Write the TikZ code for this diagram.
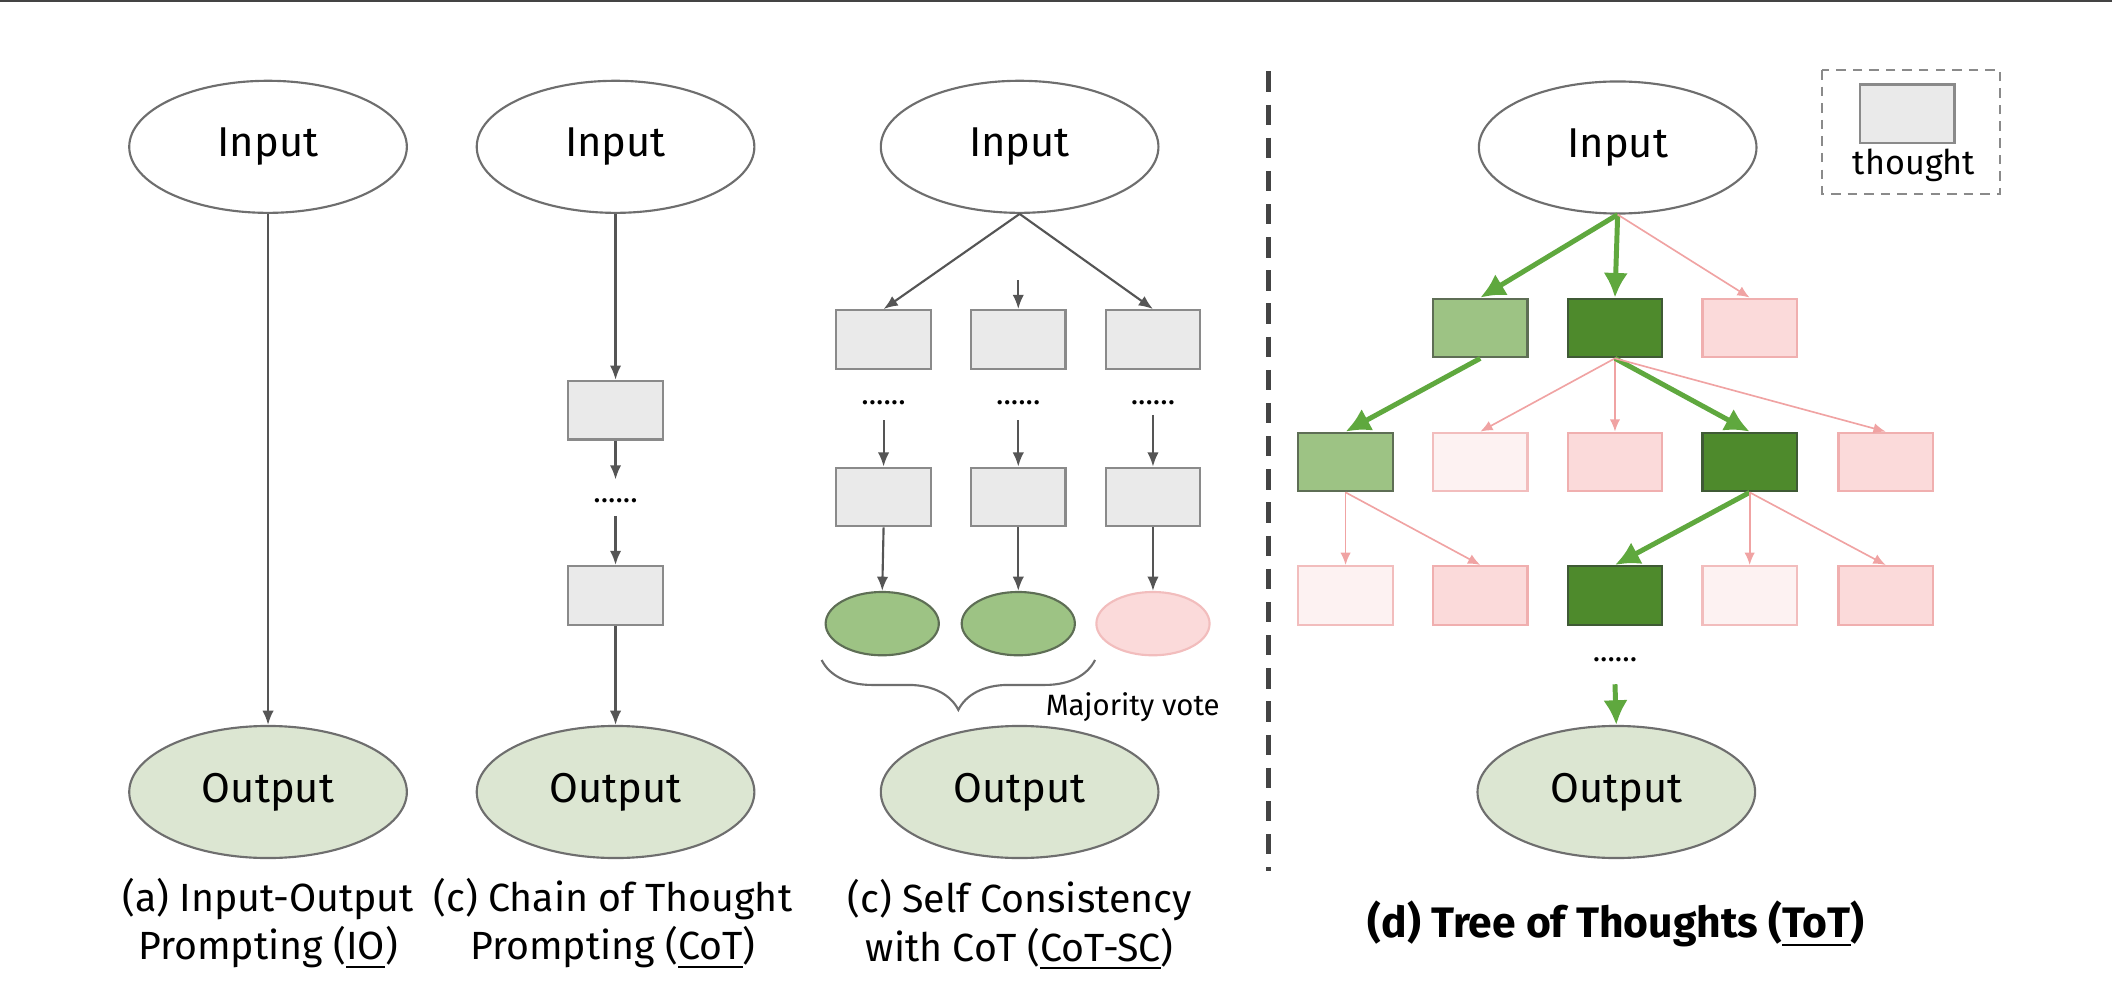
\documentclass[tikz,border=0pt]{standalone}
\usepackage{fontspec}
\setmainfont{Fira Sans}
\usetikzlibrary{shapes.geometric,arrows.meta,decorations.pathreplacing}
\definecolor{ellgray}{HTML}{6E6E6E}
\definecolor{outgreen}{HTML}{DCE6D2}
\definecolor{boxgray}{HTML}{EAEAEA}
\definecolor{boxedge}{HTML}{8A8A8A}
\definecolor{lightgreen}{HTML}{9DC384}
\definecolor{lgedge}{HTML}{5E6E55}
\definecolor{darkgreen}{HTML}{4E8A2C}
\definecolor{dgedge}{HTML}{3F5A35}
\definecolor{pinkfill}{HTML}{FBDADA}
\definecolor{pinkedge}{HTML}{F0AFAF}
\definecolor{palepink}{HTML}{FDF2F2}
\definecolor{paleedge}{HTML}{F2BDBD}
\definecolor{greenarrow}{HTML}{5FA83E}
\definecolor{pinkarrow}{HTML}{F0A3A3}
\definecolor{arrgray}{HTML}{555555}
\definecolor{topgray}{HTML}{444444}

\begin{document}
\begin{tikzpicture}[x=0.01cm, y=-0.01cm,
            inout/.style={ellipse, draw=ellgray, line width=0.45pt, minimum width=2.06cm, minimum height=0.98cm, inner sep=0pt, font=\fontsize{8.8}{10}\selectfont},
            innode/.style={inout, fill=white},
            outnode/.style={inout, fill=outgreen},
            thought/.style={rectangle, draw=boxedge, fill=boxgray, line width=0.45pt, minimum width=0.7cm, minimum height=0.435cm, inner sep=0pt},
            goodbox/.style={thought, draw=lgedge, fill=lightgreen},
            bestbox/.style={thought, draw=dgedge, fill=darkgreen},
            badbox/.style={thought, draw=pinkedge, fill=pinkfill},
            weakbox/.style={thought, draw=paleedge, fill=palepink},
            answer/.style={ellipse, minimum width=0.84cm, minimum height=0.47cm, inner sep=0pt, line width=0.45pt},
            dots/.style={font=\fontsize{6.5}{7}\selectfont, inner sep=0pt},
            caption/.style={align=center, font=\fontsize{8.3}{10.2}\selectfont},
            arr/.style={draw=arrgray, line width=0.45pt, -{Latex[length=3pt,width=2.4pt]}},
            goodarr/.style={draw=greenarrow, line width=1.05pt, -{Latex[length=5.2pt,width=5.2pt]}},
            badarr/.style={draw=pinkarrow, line width=0.35pt, -{Latex[length=2.6pt,width=2.2pt]}}]
            \useasboundingbox (0,0) rectangle (1568,748);
            \draw[topgray, line width=0.4pt] (0,0.6) -- (1568,0.6);

            \node[innode] (ioin) at (199,109) {Input};
            \node[outnode] (ioout) at (199,588) {Output};
            \draw[arr] (ioin.south) -- (ioout.north);
            \node[caption] (iocap) at (199,686) {(a) Input-Output\\Prompting (\underline{IO})};

            \node[innode] (cotin) at (457,109) {Input};
            \node[thought] (cotb1) at (457,304.5) {};
            \node[dots] (cotdots) at (457,372) {......};
            \node[thought] (cotb2) at (457,442) {};
            \node[outnode] (cotout) at (457,588) {Output};
            \coordinate (cotd1) at (457,356);
            \coordinate (cotd2) at (457,383);
            \draw[arr] (cotin.south) -- (cotb1.north);
            \draw[arr] (cotb1.south) -- (cotd1);
            \draw[arr] (cotd2) -- (cotb2.north);
            \draw[arr] (cotb2.south) -- (cotout.north);
            \node[caption] (cotcap) at (455,686) {(c) Chain of Thought\\Prompting (\underline{CoT})};

            \node[innode] (scin) at (757,109) {Input};
            \node[thought] (sca1) at (656,252) {};
            \node[thought] (sca2) at (756,252) {};
            \node[thought] (sca3) at (856,252) {};
            \node[dots] (scd1) at (656,299) {......};
            \node[dots] (scd2) at (756,299) {......};
            \node[dots] (scd3) at (856,299) {......};
            \node[thought] (scb1) at (656,369) {};
            \node[thought] (scb2) at (756,369) {};
            \node[thought] (scb3) at (856,369) {};
            \node[answer, draw=lgedge, fill=lightgreen] (sce1) at (655,463) {};
            \node[answer, draw=lgedge, fill=lightgreen] (sce2) at (756,463) {};
            \node[answer, draw=paleedge, fill=pinkfill] (sce3) at (856,463) {};
            \node[outnode] (scout) at (757,588) {Output};
            \coordinate (scm) at (756,208);
            \coordinate (sct1) at (656,312);
            \coordinate (sct2) at (756,312);
            \coordinate (sct3) at (856,308);
            \draw[arr] (scin.south) -- (sca1.north);
            \draw[arr] (scm) -- (sca2.north);
            \draw[arr] (scin.south) -- (sca3.north);
            \draw[arr] (sct1) -- (scb1.north);
            \draw[arr] (sct2) -- (scb2.north);
            \draw[arr] (sct3) -- (scb3.north);
            \draw[arr] (scb1.south) -- (sce1.north);
            \draw[arr] (scb2.south) -- (sce2.north);
            \draw[arr] (scb3.south) -- (sce3.north);
            \draw[ellgray, line width=0.45pt, decorate, decoration={brace, mirror, amplitude=0.37cm}] (610,490) -- (813,490);
            \node[font=\fontsize{6.2}{7}\selectfont] (vote) at (841,525) {Majority vote};
            \node[caption] (sccap) at (757,687) {(c) Self Consistency\\with CoT (\underline{CoT-SC})};

            \draw[topgray, line width=1pt, dash pattern=on 4.3pt off 2.7pt] (941.5,53) -- (941.5,647);

            \draw[boxedge, line width=0.4pt, dash pattern=on 2pt off 1.5pt] (1353,52) rectangle (1485,144);
            \node[thought] (legbox) at (1416,84.5) {};
            \node[font=\fontsize{7.2}{8}\selectfont] (legtext) at (1421,122.5) {thought};

            \node[innode] (totin) at (1201,109.5) {Input};
            \node[goodbox] (t11) at (1099,243.5) {};
            \node[bestbox] (t12) at (1199,243.5) {};
            \node[badbox] (t13) at (1299,243.5) {};
            \node[goodbox] (t21) at (999,343) {};
            \node[weakbox] (t22) at (1099,343) {};
            \node[badbox] (t23) at (1199,343) {};
            \node[bestbox] (t24) at (1299,343) {};
            \node[badbox] (t25) at (1400,343) {};
            \node[weakbox] (t31) at (999,442) {};
            \node[badbox] (t32) at (1099,442) {};
            \node[bestbox] (t33) at (1199,442) {};
            \node[weakbox] (t34) at (1299,442) {};
            \node[badbox] (t35) at (1400,442) {};
            \node[dots] (totdots) at (1199,490) {......};
            \node[outnode] (totout) at (1200,588) {Output};
            \coordinate (totd) at (1199,508);
            \draw[goodarr] (totin.south) -- (t11.north);
            \draw[goodarr] (totin.south) -- (t12.north);
            \draw[badarr] (totin.south) -- (t13.north);
            \draw[goodarr] (t11.south) -- (t21.north);
            \draw[badarr] (t12.south) -- (t22.north);
            \draw[badarr] (t12.south) -- (t23.north);
            \draw[goodarr] (t12.south) -- (t24.north);
            \draw[badarr] (t12.south) -- (t25.north);
            \draw[badarr] (t21.south) -- (t31.north);
            \draw[badarr] (t21.south) -- (t32.north);
            \draw[goodarr] (t24.south) -- (t33.north);
            \draw[badarr] (t24.south) -- (t34.north);
            \draw[badarr] (t24.south) -- (t35.north);
            \draw[goodarr] (totd) -- (totout.north);
            \node[caption, font=\fontsize{9}{11}\bfseries] (totcap) at (1200,686) {(d) Tree of Thoughts (\underline{ToT})};
\end{tikzpicture}
\end{document}
